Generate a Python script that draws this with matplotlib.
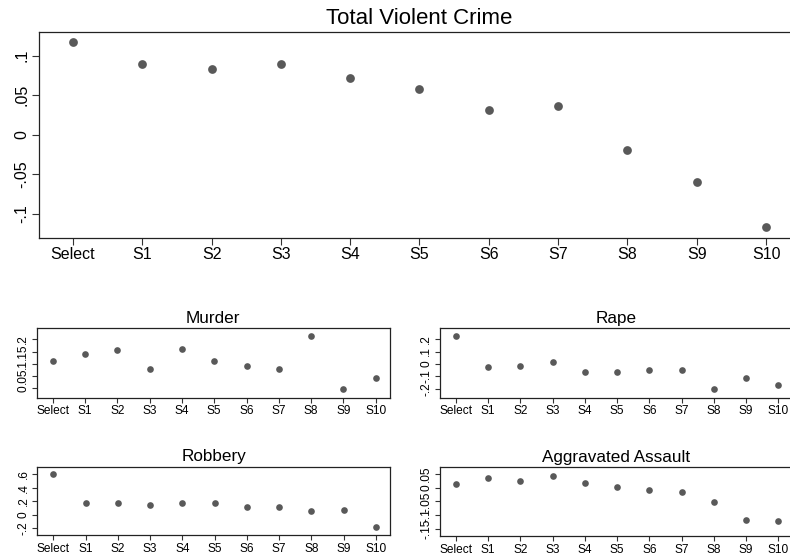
import matplotlib
matplotlib.use("Agg")
import matplotlib.pyplot as plt

plt.rcParams['font.family'] = ['Liberation Sans', 'DejaVu Sans']

categories = ["Select", "S1", "S2", "S3", "S4", "S5", "S6", "S7", "S8", "S9", "S10"]

total_violent = [0.117, 0.090, 0.083, 0.089, 0.072, 0.058, 0.032, 0.036, -0.019, -0.060, -0.116]
murder = [0.113, 0.139, 0.155, 0.078, 0.162, 0.113, 0.090, 0.078, 0.215, -0.004, 0.041]
rape = [0.228, -0.024, -0.019, 0.013, -0.062, -0.062, -0.048, -0.048, -0.204, -0.115, -0.166]
robbery = [0.60, 0.17, 0.17, 0.145, 0.18, 0.17, 0.11, 0.11, 0.05, 0.075, -0.18]
assault = [0.013, 0.036, 0.025, 0.044, 0.016, 0.001, -0.010, -0.017, -0.051, -0.118, -0.121]

total_ticks = [-0.1, -0.05, 0, 0.05, 0.1]
total_labels = ["-.1", "-.05", "0", ".05", ".1"]
murder_ticks = [0, 0.05, 0.1, 0.15, 0.2]
murder_labels = ["0", ".05", ".1", ".15", ".2"]
rape_ticks = [-0.2, -0.1, 0, 0.1, 0.2]
rape_labels = ["-.2", "-.1", "0", ".1", ".2"]
robbery_ticks = [-0.2, 0, 0.2, 0.4, 0.6]
robbery_labels = ["-.2", "0", ".2", ".4", ".6"]
assault_ticks = [-0.15, -0.1, -0.05, 0, 0.05]
assault_labels = ["-.15", "-.1", "-.05", "0", ".05"]

W, H = 790, 556
fig = plt.figure(figsize=(W / 100, H / 100), dpi=100)
fig.patch.set_facecolor("white")

def px_axes(left, right, top, bottom):
    return fig.add_axes([left / W, 1 - bottom / H, (right - left) / W, (bottom - top) / H])

DOT = "#595959"

def style(ax, vals, ticks, labels, title, ylim, xlim, ms, fs, tfs, tpad, ticklen):
    x = list(range(len(categories)))
    ax.plot(x, vals, linestyle="none", marker="o", color=DOT, markersize=ms,
            markeredgewidth=0)
    ax.set_xlim(*xlim)
    ax.set_ylim(*ylim)
    ax.set_xticks(x)
    ax.set_xticklabels(categories, fontsize=fs)
    ax.set_yticks(ticks)
    ax.set_yticklabels(labels, fontsize=fs, rotation=90, va="center")
    ax.tick_params(axis="both", direction="out", length=ticklen, width=0.8,
                   color="#333333", pad=2)
    for s in ax.spines.values():
        s.set_linewidth(0.9)
        s.set_color("#222222")
    ax.set_title(title, fontsize=tfs, pad=tpad)

ax0 = px_axes(39, 800, 32, 237.7)
style(ax0, total_violent, total_ticks, total_labels, "Total Violent Crime",
      (-0.13, 0.13), (-0.49, 10.49), 6.3, 11.5, 16, 5.8, 5)

ax1 = px_axes(36.7, 390, 328.3, 397.7)
style(ax1, murder, murder_ticks, murder_labels, "Murder",
      (-0.038, 0.245), (-0.495, 10.44), 4.8, 8.6, 12.3, 4, 3.5)

ax2 = px_axes(440, 792.6, 328.3, 397.7)
style(ax2, rape, rape_ticks, rape_labels, "Rape",
      (-0.271, 0.287), (-0.49, 10.44), 4.8, 8.6, 12.3, 4, 3.5)

ax3 = px_axes(37.3, 390, 466.7, 535)
style(ax3, robbery, robbery_ticks, robbery_labels, "Robbery",
      (-0.30, 0.71), (-0.495, 10.44), 4.8, 8.6, 12.3, 4, 3.5)

ax4 = px_axes(440, 792.6, 467.3, 536)
style(ax4, assault, assault_ticks, assault_labels, "Aggravated Assault",
      (-0.176, 0.074), (-0.49, 10.44), 4.8, 8.6, 12.3, 4, 3.5)

fig.savefig("out.png", dpi=100, facecolor="white")
